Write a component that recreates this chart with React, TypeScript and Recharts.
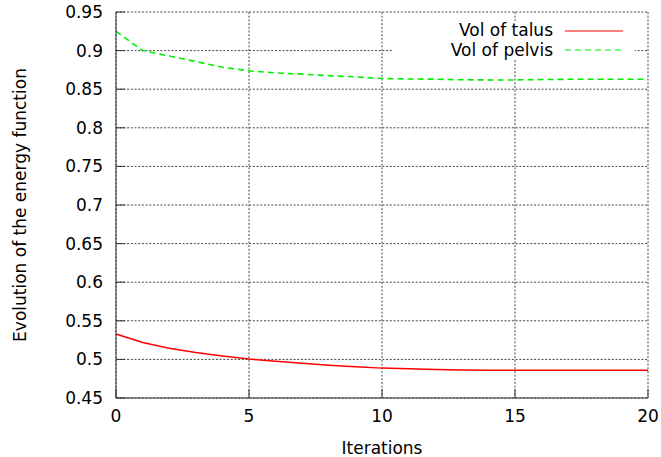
import React from 'react';
import {
  LineChart,
  Line,
  XAxis,
  YAxis,
  CartesianGrid,
  Legend
} from 'recharts';

const iterations = [0, 1, 2, 3, 4, 5, 6, 7, 8, 9, 10, 11, 12, 13, 14, 15, 16, 17, 18, 19, 20];
const volTalus = [0.533, 0.522, 0.5145, 0.509, 0.5045, 0.5005, 0.4975, 0.495, 0.4925, 0.4905, 0.4887, 0.4878, 0.487, 0.4862, 0.486, 0.486, 0.486, 0.486, 0.486, 0.486, 0.486];
const volPelvis = [0.925, 0.9, 0.893, 0.8858, 0.8785, 0.8738, 0.8712, 0.8695, 0.8675, 0.866, 0.8638, 0.8632, 0.863, 0.8622, 0.862, 0.862, 0.8625, 0.8628, 0.8628, 0.8628, 0.8628];

const xTicks = [0, 5, 10, 15, 20];
const yTicks = [0.45, 0.5, 0.55, 0.6, 0.65, 0.7, 0.75, 0.8, 0.85, 0.9, 0.95];

const legendItems = [
  { name: 'Vol of talus', color: '#ff0000', dash: undefined },
  { name: 'Vol of pelvis', color: '#00ee00', dash: '6 4' }
];

const data = iterations.map((it, i) => ({ iter: it, talus: volTalus[i], pelvis: volPelvis[i] }));

const FONT = '"DejaVu Sans", sans-serif';
const tickStyle = { fill: '#000', fontSize: 17, fontFamily: FONT };

const GnuLegend = () => (
  <div style={{ fontFamily: FONT, fontSize: 17, color: '#000', background: '#fff', paddingRight: 12 }}>
    {legendItems.map((item) => (
      <div key={item.name} style={{ display: 'flex', alignItems: 'center', height: 19.5, lineHeight: '19.5px' }}>
        <span style={{ flex: 1, textAlign: 'right' }}>{item.name}</span>
        <svg width={58} height={4} style={{ marginLeft: 12 }}>
          <line x1={0} y1={2} x2={58} y2={2} stroke={item.color} strokeWidth={1} strokeDasharray={item.dash} />
        </svg>
      </div>
    ))}
  </div>
);

const App: React.FC = () => {
  return (
    <div style={{ position: 'absolute', left: 0, top: 0, background: '#fff' }}>
      <LineChart width={661} height={457} data={data} margin={{ top: 12, right: 13, left: 0, bottom: 0 }}>
        <CartesianGrid stroke="#444" strokeDasharray="2 1.7" />
        <XAxis
          dataKey="iter"
          type="number"
          domain={[0, 20]}
          ticks={xTicks}
          height={59}
          stroke="#333"
          tickSize={-9}
          tickMargin={21}
          tick={tickStyle}
          label={{ value: 'Iterations', position: 'insideBottom', offset: 3, style: { fill: '#000', fontSize: 17, fontFamily: FONT } }}
        />
        <XAxis
          xAxisId="top"
          orientation="top"
          type="number"
          domain={[0, 20]}
          allowDataOverflow
          ticks={xTicks}
          height={0}
          stroke="#333"
          tickSize={-9}
          tickFormatter={() => ''}
        />
        <YAxis
          type="number"
          domain={[0.45, 0.95]}
          ticks={yTicks}
          width={116}
          stroke="#333"
          tickSize={-9}
          tickMargin={22}
          tick={tickStyle}
          tickFormatter={(v) => `${v}`}
          label={{ value: 'Evolution of the energy function', angle: -90, position: 'insideLeft', offset: 20, style: { fill: '#000', fontSize: 17, fontFamily: FONT, textAnchor: 'middle' } }}
        />
        <YAxis
          yAxisId="right"
          orientation="right"
          type="number"
          domain={[0.45, 0.95]}
          allowDataOverflow
          ticks={yTicks}
          width={0}
          stroke="#333"
          tickSize={-9}
          tickFormatter={() => ''}
        />
        <Legend
          align="center"
          verticalAlign="middle"
          content={<GnuLegend />}
          wrapperStyle={{ left: 393, top: 21, width: 242 }}
        />
        <Line
          type="linear"
          dataKey="talus"
          name="Vol of talus"
          stroke="#ff0000"
          strokeWidth={1.5}
          dot={false}
          isAnimationActive={false}
        />
        <Line
          type="linear"
          dataKey="pelvis"
          name="Vol of pelvis"
          stroke="#00ee00"
          strokeWidth={1.6}
          strokeDasharray="6 4"
          dot={false}
          isAnimationActive={false}
        />
      </LineChart>
    </div>
  );
};

export default App;
